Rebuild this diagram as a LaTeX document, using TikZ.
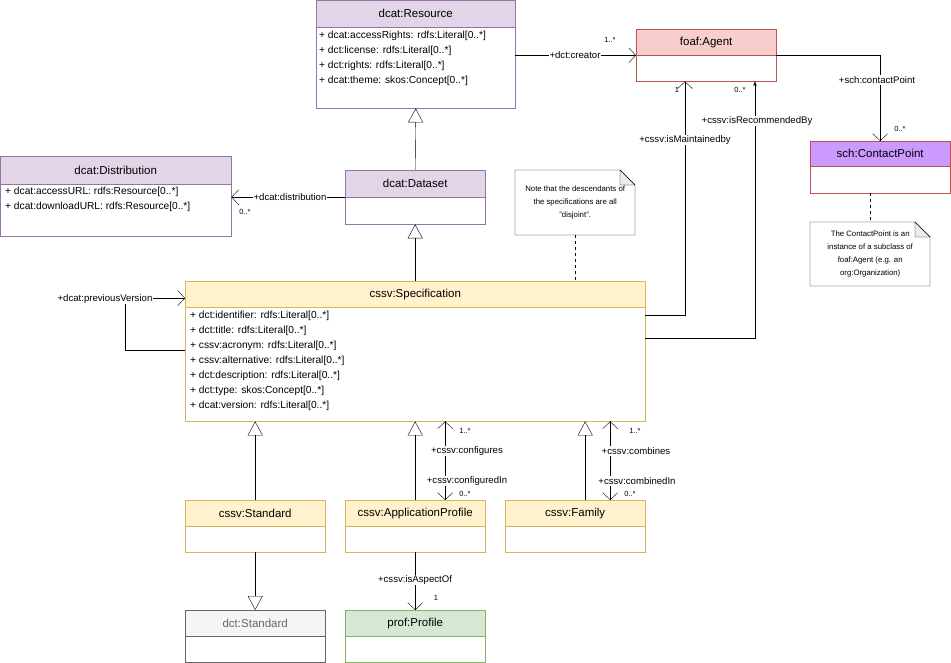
\documentclass[tikz,border=0pt]{standalone}
\usepackage{fontspec}
\setmainfont{Liberation Sans}
\usetikzlibrary{arrows.meta}
\usetikzlibrary{calc}
\usetikzlibrary{positioning}

\definecolor{purfill}{HTML}{E1D5E7}
\definecolor{purline}{HTML}{9673A6}
\definecolor{redfill}{HTML}{F8CECC}
\definecolor{redline}{HTML}{B85450}
\definecolor{vioFill}{HTML}{CC99FF}
\definecolor{yelfill}{HTML}{FFF2CC}
\definecolor{yelline}{HTML}{D6B656}
\definecolor{grefill}{HTML}{D5E8D4}
\definecolor{greline}{HTML}{82B366}
\definecolor{gryfill}{HTML}{F5F5F5}
\definecolor{gryline}{HTML}{666666}

\begin{document}
\begin{tikzpicture}[x=1pt, y=-1pt,
    every node/.style={font=\fontsize{11}{13}\selectfont},
    cls/.style={draw=#1, fill=white, anchor=north west, inner sep=0pt},
    head/.style={draw=#1, anchor=north west, inner sep=0pt, font=\fontsize{11.5}{13}\selectfont},
    attrs/.style={anchor=north west, align=left, inner sep=0pt, font=\fontsize{10.2}{15}\selectfont},
    lbl/.style={fill=white, inner sep=1pt, font=\fontsize{9.6}{11}\selectfont},
    mult/.style={inner sep=0pt, font=\fontsize{7.5}{9}\selectfont},
    note/.style={anchor=north west, inner sep=0pt, align=center, font=\fontsize{7.8}{13}\selectfont},
    gen/.style={-{Triangle[open, length=14pt, width=15pt]}},
    assoc/.style={-{Straight Barb[length=7pt, width=15pt]}},
  ]
  \useasboundingbox (0,0) rectangle (951,663);

  % classes
  \node[cls=purline, minimum width=199, minimum height=108] (res) at (316,0) {};
  \node[head=purline, fill=purfill, minimum width=199, minimum height=27] (resh) at (res.north west) {dcat:Resource};
  \node[attrs] at ($(resh.south west)+(3,4)$) {+ dcat:accessRights: rdfs:Literal[0..*]\\+ dct:license: rdfs:Literal[0..*]\\+ dct:rights: rdfs:Literal[0..*]\\+ dcat:theme: skos:Concept[0..*]};

  \node[cls=purline, minimum width=231, minimum height=80] (dist) at (0,156) {};
  \node[head=purline, fill=purfill, minimum width=231, minimum height=28] (disth) at (dist.north west) {dcat:Distribution};
  \node[attrs] at ($(disth.south west)+(5,3)$) {+ dcat:accessURL: rdfs:Resource[0..*]\\+ dcat:downloadURL: rdfs:Resource[0..*]};

  \node[cls=purline, minimum width=140, minimum height=54] (ds) at (345,170) {};
  \node[head=purline, fill=purfill, minimum width=140, minimum height=27] (dsh) at (ds.north west) {dcat:Dataset};

  \node[cls=redline, minimum width=140, minimum height=52] (agent) at (636,29) {};
  \node[head=redline, fill=redfill, minimum width=140, minimum height=26] (agenth) at (agent.north west) {foaf:Agent};

  \node[cls=redline, minimum width=140, minimum height=52] (cp) at (810,141) {};
  \node[head=redline, fill=vioFill, minimum width=140, minimum height=25] (cph) at (cp.north west) {sch:ContactPoint};

  \node[cls=yelline, minimum width=460, minimum height=140] (spec) at (185,281) {};
  \node[head=yelline, fill=yelfill, minimum width=460, minimum height=26] (spech) at (spec.north west) {cssv:Specification};
  \node[attrs] at ($(spech.south west)+(5,4)$) {+ dct:identifier: rdfs:Literal[0..*]\\+ dct:title: rdfs:Literal[0..*]\\+ cssv:acronym: rdfs:Literal[0..*]\\+ cssv:alternative: rdfs:Literal[0..*]\\+ dct:description: rdfs:Literal[0..*]\\+ dct:type: skos:Concept[0..*]\\+ dcat:version: rdfs:Literal[0..*]};

  \node[cls=yelline, minimum width=140, minimum height=52] (std) at (185,500) {};
  \node[head=yelline, fill=yelfill, minimum width=140, minimum height=26] (stdh) at (std.north west) {cssv:Standard};
  \node[cls=yelline, minimum width=140, minimum height=52] (ap) at (345,500) {};
  \node[head=yelline, fill=yelfill, minimum width=140, minimum height=26] (aph) at (ap.north west) {cssv:ApplicationProfile};
  \node[cls=yelline, minimum width=140, minimum height=52] (fam) at (505,500) {};
  \node[head=yelline, fill=yelfill, minimum width=140, minimum height=26] (famh) at (fam.north west) {cssv:Family};

  \node[cls=gryline, minimum width=140, minimum height=52] (dstd) at (185,610) {};
  \node[head=gryline, fill=gryfill, text=gryline, minimum width=140, minimum height=26] (dstdh) at (dstd.north west) {dct:Standard};
  \node[cls=greline, minimum width=140, minimum height=52] (prof) at (345,610) {};
  \node[head=greline, fill=grefill, minimum width=140, minimum height=26] (profh) at (prof.north west) {prof:Profile};

  % notes
  \coordinate (n1) at (515,170);
  \coordinate (n2) at (810,222);
  \foreach \n/\h in {n1/65, n2/64} {
    \draw[fill=white] (\n) -- ++(105,0) -- ++(15,15) -- ++(0,\h-15) -- ++(-120,0) -- cycle;
    \draw[fill=gray!15] ($(\n)+(105,0)$) -- ++(0,15) -- ++(15,0) -- cycle;
  }
  \node[note, minimum width=120, minimum height=65] (n1t) at (n1) {Note that the descendants of\\the specifications are all\\"disjoint".};
  \node[note, minimum width=120, minimum height=64] (n2t) at (n2) {The ContactPoint is an\\instance of a subclass of\\foaf:Agent (e.g. an\\org:Organization)};
  \draw[dashed] ($(n1t.south)+(0,0)$) -- (n1t.south |- spec.north);
  \draw[dashed] (cp.south -| n2t.north) -- (n2t.north);

  % generalisations
  \draw[gen] (ds.north) -- (res.south);
  \draw[gen] (spec.north -| ds.south) -- (ds.south);
  \draw[gen] (std.north) -- (std.north |- spec.south);
  \draw[gen] (ap.north) -- (ap.north |- spec.south);
  \draw[gen] ($(fam.north)+(10,0)$) -- ($(fam.north |- spec.south)+(10,0)$);
  \draw[gen] (std.south) -- (dstdh.north);

  % associations
  \draw[assoc] (ds.west) -- (ds.west -| dist.east);
  \node[lbl] at (290,197) {+dcat:distribution};
  \node[mult] at (245,212) {0..*};
  \draw[assoc] (agenth.south west -| res.east) -- (agenth.south west);
  \node[lbl] at (575,55) {+dct:creator};
  \node[mult] at (610,40) {1..*};
  \draw[assoc] (agenth.south east) -| (cph.north);
  \node[lbl] at (877,80) {+sch:contactPoint};
  \node[mult] at (900,129) {0..*};
  \draw[assoc] ($(spech.south east)+(0,8)$) -| ($(agent.south west)+(49,0)$);
  \node[lbl] at (685,140) {+cssv:isMaintainedby};
  \node[mult] at (677,90) {1};
  \draw[-Stealth] ($(spech.south east)+(0,31)$) -| ($(agent.south west)+(119,0)$);
  \node[lbl] at (757,121) {+cssv:isRecommendedBy};
  \node[mult] at (740,90) {0..*};
  \draw[assoc] ($(spec.north west)+(0,69)$) -- ++(-60,0) |- ($(spech.west)+(0,4)$);
  \node[lbl] at (105,299) {+dcat:previousVersion};

  \draw[assoc] ($(ap.north)+(30,0)$) -- ($(ap.north |- spec.south)+(30,0)$);
  \draw[assoc] ($(ap.north |- spec.south)+(30,0)$) -- ($(ap.north)+(30,0)$);
  \node[lbl] at (467,451) {+cssv:configures};
  \node[lbl] at (467,481) {+cssv:configuredIn};
  \node[mult] at (465,431) {1..*};
  \node[mult] at (465,494) {0..*};
  \draw[assoc] ($(fam.north)+(35,0)$) -- ($(fam.north |- spec.south)+(35,0)$);
  \draw[assoc] ($(fam.north |- spec.south)+(35,0)$) -- ($(fam.north)+(35,0)$);
  \node[lbl] at (636,451) {+cssv:combines};
  \node[lbl] at (637,481) {+cssv:combinedIn};
  \node[mult] at (635,431) {1..*};
  \node[mult] at (630,494) {0..*};

  \draw[assoc] (ap.south) -- (profh.north);
  \node[lbl] at (415,580) {+cssv:isAspectOf};
  \node[mult] at (436,598) {1};
\end{tikzpicture}
\end{document}
